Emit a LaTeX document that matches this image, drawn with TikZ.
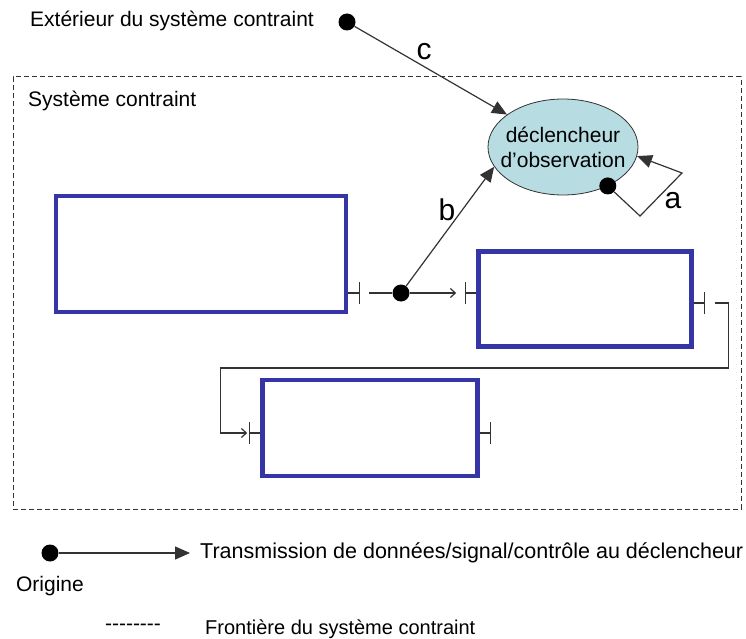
\documentclass[tikz,border=0pt]{standalone}
\usepackage{fontspec}
\setmainfont{Liberation Sans}
\usetikzlibrary{arrows.meta, positioning, shapes.geometric}
\definecolor{boxblue}{HTML}{3535A5}
\definecolor{trigfill}{HTML}{B7DDE3}
\definecolor{linegray}{HTML}{333333}

\begin{document}
\begin{tikzpicture}[
    x=1pt, y=-1pt,
    font=\fontsize{21}{26}\selectfont,
    component/.style={rectangle, draw=boxblue, line width=4.5pt, inner sep=0pt},
    trigger/.style={ellipse, draw=linegray, fill=trigfill, line width=0.8pt, minimum width=150pt, minimum height=96pt, align=center, inner sep=-12pt, font=\fontsize{21}{25}\selectfont},
    origin/.style={circle, fill=black, inner sep=0pt, minimum size=17pt},
    signal/.style={-{Triangle[length=15pt, width=13pt]}, line width=1.2pt, draw=linegray},
    flow/.style={-{Straight Barb[length=5pt, width=9pt]}, line width=1.2pt, draw=linegray},
    wire/.style={line width=1.2pt, draw=linegray},
    frontier/.style={draw=linegray, line width=1pt, dash pattern=on 5pt off 3pt},
    caption/.style={inner sep=0pt},
    letter/.style={inner sep=0pt, font=\fontsize{30}{30}\selectfont},
    port/.pic={\draw[wire] (0,0) -- (11,0); \draw[wire] (11,-11) -- (11,11);},
]
\useasboundingbox (0,0) rectangle (746,639);

% Constrained system boundary
\node[frontier, minimum width=728pt, minimum height=432pt] (system) at (377,293) {};
\node[caption, anchor=base west] (systitle) at (28,107) {Système contraint};
\node[caption, anchor=base west] (outtitle) at (30,27) {Extérieur du système contraint};

% Components
\node[component, minimum width=290pt, minimum height=116pt] (box1) at (201,254) {};
\node[component, minimum width=213pt, minimum height=95pt] (box2) at (585,299) {};
\node[component, minimum width=215pt, minimum height=96pt] (box3) at (370,428) {};

% Observation trigger
\node[trigger] (decl) at (563,147) {déclencheur\\d'observation};

% Ports
\coordinate (p1out) at ([yshift=-39pt]box1.east);
\coordinate (p2in) at ([yshift=6pt]box2.west);
\coordinate (p2out) at ([yshift=-4pt]box2.east);
\coordinate (p3in) at ([yshift=-5pt]box3.west);
\coordinate (p3out) at ([yshift=-5pt]box3.east);
\pic at (p1out) {port};
\pic[xscale=-1] at (p2in) {port};
\pic at (p2out) {port};
\pic[xscale=-1] at (p3in) {port};
\pic at (p3out) {port};

% Data flow between components
\node[origin] (dotb) at (401,293) {};
\coordinate (p1tail) at ([xshift=21pt]p1out);
\coordinate (p2head) at ([xshift=-20pt]p2in);
\coordinate (p2tail) at ([xshift=21pt]p2out);
\coordinate (p3head) at ([xshift=-13pt]p3in);
\draw[wire] (p1tail) -- (dotb);
\draw[flow] (dotb) -- (p2head);
\draw[flow] (p2tail) -- ++(14,0) |- ++(-508,65) |- (p3head);

% Signals to the trigger
\node[origin] (dotc) at (347,22) {};
\node[origin] (dota) at (decl.-41) {};
\draw[signal] (dotc) -- (decl);
\draw[signal] (dotb) -- (decl.196);
\draw[signal] (dota) -- (640,216) -- (682,173) -- (decl.-7);
\node[letter] (labc) at (424,52) {c};
\node[letter] (labb) at (447,210) {b};
\node[letter] (laba) at (673,201) {a};

% Legend
\node[origin] (legdot) at (50,553) {};
\coordinate (legtip) at (190,553);
\draw[signal] (legdot) -- (legtip);
\node[caption, right=10pt of legtip, font=\fontsize{21.5}{26}\selectfont] (legsig) {Transmission de données/signal/contrôle au déclencheur};
\node[caption, below=14pt of legdot] (legorig) {Origine};
\node[caption] (legdash) at (133,627) {-{}-{}-{}-{}-{}-{}-{}-};
\node[caption, anchor=base west, font=\fontsize{20}{25}\selectfont] (legfront) at (205,634) {Frontière du système contraint};

\end{tikzpicture}
\end{document}
